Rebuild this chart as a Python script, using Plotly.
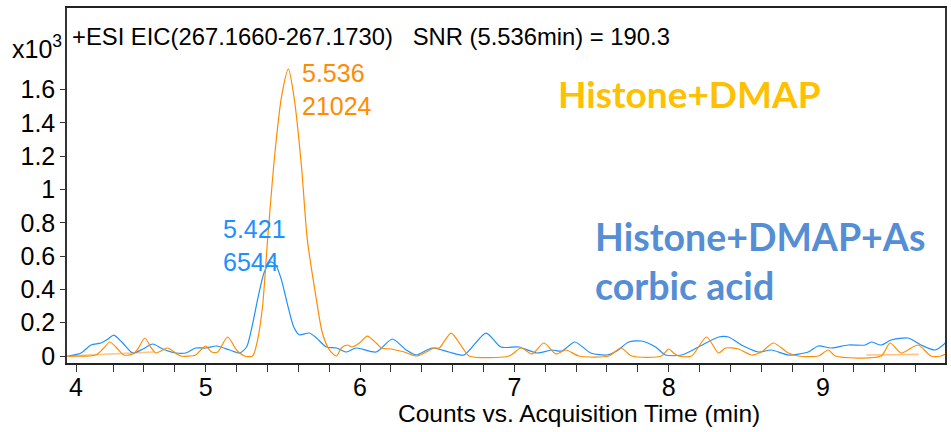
import plotly.graph_objects as go

# Extracted ion chromatograms, intensity in x10^3 counts vs retention time (min)
t_blue = [4.114, 4.192, 4.257, 4.321, 4.367, 4.405, 4.463, 4.528, 4.593, 4.657,
          4.722, 4.806, 4.871, 4.935, 5.000, 5.071, 5.155, 5.220, 5.265, 5.300,
          5.340, 5.380, 5.421, 5.455, 5.490, 5.530, 5.570, 5.605, 5.672, 5.718,
          5.782, 5.847, 5.911, 5.976, 6.105, 6.209, 6.299, 6.364, 6.467, 6.577,
          6.674, 6.816, 6.913, 7.030, 7.146, 7.243, 7.308, 7.392, 7.495, 7.599,
          7.663, 7.741, 7.825, 7.915, 7.980, 8.083, 8.193, 8.323, 8.387, 8.471,
          8.581, 8.665, 8.775, 8.904, 8.969, 9.053, 9.163, 9.273, 9.312, 9.376,
          9.441, 9.551, 9.635, 9.725, 9.777, 9.809]
i_blue = [0.000, 0.018, 0.066, 0.078, 0.102, 0.126, 0.078, 0.018, 0.042, 0.072,
          0.042, 0.018, 0.018, 0.048, 0.048, 0.060, 0.036, 0.018, 0.054, 0.175,
          0.355, 0.505, 0.565, 0.545, 0.460, 0.310, 0.175, 0.128, 0.138, 0.108,
          0.054, 0.048, 0.024, 0.048, 0.024, 0.102, 0.036, 0.006, 0.048, 0.024,
          0.006, 0.138, 0.054, 0.054, 0.018, 0.036, 0.030, 0.084, 0.018, 0.006,
          0.030, 0.084, 0.090, 0.054, 0.006, 0.006, 0.054, 0.114, 0.114, 0.066,
          0.024, 0.036, 0.006, 0.024, 0.060, 0.048, 0.066, 0.066, 0.084, 0.066,
          0.096, 0.108, 0.066, 0.036, 0.066, 0.096]

t_orange = [4.095, 4.289, 4.334, 4.379, 4.418, 4.470, 4.528, 4.560, 4.606, 4.644,
            4.677, 4.722, 4.754, 4.787, 4.838, 4.935, 4.968, 5.000, 5.039, 5.078,
            5.142, 5.200, 5.252, 5.304, 5.336, 5.368, 5.401, 5.446, 5.491, 5.536,
            5.575, 5.621, 5.659, 5.718, 5.756, 5.802, 5.847, 5.879, 5.918, 5.950,
            5.996, 6.047, 6.105, 6.138, 6.202, 6.286, 6.370, 6.480, 6.513, 6.590,
            6.661, 6.707, 6.965, 7.043, 7.114, 7.191, 7.269, 7.334, 7.418, 7.612,
            7.690, 7.761, 7.954, 7.999, 8.032, 8.064, 8.148, 8.245, 8.323, 8.368,
            8.452, 8.536, 8.601, 8.678, 8.775, 8.840, 8.969, 9.034, 9.079, 9.376,
            9.434, 9.506, 9.616, 9.699, 9.764, 9.809]
i_orange = [0.000, 0.006, 0.042, 0.084, 0.054, 0.006, 0.012, 0.042, 0.108, 0.054,
            0.018, 0.036, 0.048, 0.030, 0.000, 0.006, 0.036, 0.060, 0.024, 0.024,
            0.114, 0.036, 0.000, 0.000, 0.096, 0.294, 0.696, 1.195, 1.555, 1.724,
            1.537, 1.135, 0.696, 0.336, 0.138, 0.036, 0.000, 0.048, 0.066, 0.054,
            0.078, 0.120, 0.078, 0.048, 0.042, 0.024, 0.000, 0.048, 0.048, 0.138,
            0.054, 0.000, 0.000, 0.048, 0.012, 0.078, 0.012, 0.036, 0.000, 0.000,
            0.048, 0.000, 0.000, 0.042, 0.018, 0.000, 0.000, 0.114, 0.018, 0.048,
            0.042, 0.006, 0.024, 0.078, 0.018, 0.000, 0.000, 0.036, 0.000, 0.000,
            0.078, 0.018, 0.066, 0.000, 0.000, 0.018]

# Integration baselines drawn under small orange peaks
t_base = [4.10, 4.66, None, 9.28, 9.62]
i_base = [0.000, 0.024, None, 0.006, 0.010]

# Peak annotations (retention time, area)
peak_blue = ("5.421", "6544")
peak_orange = ("5.536", "21024")

x_tick_vals = [4.16, 5, 6, 7, 8, 9]
x_tick_text = ["4", "5", "6", "7", "8", "9"]
x_minor_vals = [4.4, 4.6, 4.8, 5.2, 5.4, 5.6, 5.8, 6.2, 6.4, 6.6, 6.8,
                7.2, 7.4, 7.6, 7.8, 8.2, 8.4, 8.6, 8.8, 9.2, 9.4, 9.6]
y_tick_vals = [0, 0.2, 0.4, 0.6, 0.8, 1.0, 1.2, 1.4, 1.6]
y_tick_text = ["0", "0.2", "0.4", "0.6", "0.8", "1", "1.2", "1.4", "1.6"]

BLUE = "#1E90FF"
ORANGE = "#FF8C00"
FONT = "Liberation Sans, Arial, sans-serif"

fig = go.Figure()
fig.add_trace(go.Scatter(x=t_base, y=i_base, mode="lines",
                         line=dict(color="rgba(255,170,80,0.7)", width=1.6),
                         hoverinfo="skip", showlegend=False))
fig.add_trace(go.Scatter(x=t_blue, y=i_blue, mode="lines",
                         line=dict(color=BLUE, width=1.2, shape="spline", smoothing=0.7),
                         showlegend=False))
fig.add_trace(go.Scatter(x=t_orange, y=i_orange, mode="lines",
                         line=dict(color=ORANGE, width=1.2, shape="spline", smoothing=0.7),
                         showlegend=False))

y_orange_apex = i_orange[t_orange.index(float(peak_orange[0]))]
y_blue_apex = i_blue[t_blue.index(float(peak_blue[0]))]

annotations = [
    dict(x=float(peak_orange[0]), y=y_orange_apex, xref="x", yref="y",
         text=peak_orange[0] + "<br>" + peak_orange[1], showarrow=False,
         xanchor="left", yanchor="top", align="left", xshift=12, yshift=12,
         font=dict(family=FONT, size=25, color=ORANGE)),
    dict(x=float(peak_blue[0]), y=y_blue_apex, xref="x", yref="y",
         text=peak_blue[0] + "<br>" + peak_blue[1], showarrow=False,
         xanchor="left", yanchor="bottom", align="left", xshift=-50, yshift=-16,
         font=dict(family=FONT, size=25, color=BLUE)),
    dict(x=70, y=432 - 36, xref="paper", yref="paper",
         text="+ESI EIC(267.1660-267.1730)\u00a0\u00a0\u00a0SNR (5.536min) = 190.3",
         showarrow=False, xanchor="left", yanchor="middle",
         font=dict(family=FONT, size=23.8, color="black")),
    dict(x=10, y=432 - 47, xref="paper", yref="paper",
         text="x10<sup>3</sup>", showarrow=False, xanchor="left", yanchor="middle",
         font=dict(family=FONT, size=25, color="black")),
    dict(x=580, y=432 - 413, xref="paper", yref="paper",
         text="Counts vs. Acquisition Time (min)", showarrow=False,
         xanchor="center", yanchor="middle",
         font=dict(family=FONT, size=24.5, color="black")),
    dict(x=557, y=432 - 93, xref="paper", yref="paper",
         text="<b>Histone+DMAP</b>", showarrow=False, xanchor="left", yanchor="middle",
         font=dict(family="Lato, sans-serif", size=37, color="#FFC000")),
    dict(x=594, y=432 - 261, xref="paper", yref="paper",
         text="<b>Histone+DMAP+As<br>corbic acid</b>", showarrow=False,
         xanchor="left", yanchor="middle", align="left",
         font=dict(family="Lato, sans-serif", size=37.5, color="#558ED5")),
]

# convert pixel-based paper positions to fractions of the plotting area
L, R, T, B = 67, 4, 8, 69
W, H = 951, 432
for a in annotations:
    if a["xref"] == "paper":
        a["x"] = (a["x"] - L) / (W - L - R)
        a["y"] = (a["y"] - B) / (H - T - B)

fig.update_layout(
    width=W, height=H,
    margin=dict(l=L, r=R, t=T, b=B),
    paper_bgcolor="white", plot_bgcolor="white",
    annotations=annotations,
    font=dict(family=FONT, color="black"),
)
fig.update_xaxes(
    range=[4.1015, 9.790], showgrid=False, zeroline=False,
    tickmode="array", tickvals=x_tick_vals, ticktext=x_tick_text,
    ticks="outside", ticklen=7, tickwidth=1, tickcolor="#333",
    minor=dict(tickmode="array", tickvals=x_minor_vals, ticks="outside",
               ticklen=7, tickwidth=1, tickcolor="#333", showgrid=False),
    ticklabelstandoff=-6,
    tickfont=dict(family=FONT, size=25, color="black"),
    showline=True, linecolor="#222", linewidth=2, mirror=True,
)
fig.update_yaxes(
    range=[-0.042, 2.090], showgrid=False, zeroline=False,
    tickmode="array", tickvals=y_tick_vals, ticktext=y_tick_text,
    ticks="outside", ticklen=5, tickwidth=1, tickcolor="#333",
    tickfont=dict(family=FONT, size=25, color="black"),
    showline=True, linecolor="#333", linewidth=1.5, mirror=True,
)

fig.write_html("out.html")
